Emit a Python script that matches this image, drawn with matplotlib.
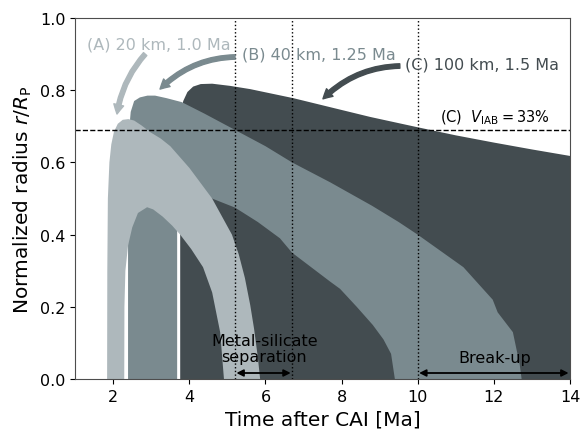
import matplotlib
matplotlib.use("Agg")
import matplotlib.pyplot as plt

# colours of the three bodies
col_a = "#aeb8bc"
col_b = "#7a8a8f"
col_c = "#434c50"

# (A) 20 km, 1.0 Ma -- outer and inner boundary of molten shell
a_out_t = [1.84, 1.845, 1.86, 1.90, 1.95, 2.02, 2.12, 2.25, 2.40, 2.55, 2.75, 2.97, 3.25, 3.50,
           4.00, 4.60, 5.12, 5.30, 5.46, 5.60, 5.70, 5.80, 5.86]
a_out_r = [0.0, 0.30, 0.50, 0.60, 0.65, 0.685, 0.707, 0.718, 0.72, 0.716, 0.702, 0.684, 0.666, 0.645,
           0.585, 0.50, 0.40, 0.345, 0.28, 0.205, 0.14, 0.06, 0.0]
a_in_t = [2.29, 2.295, 2.32, 2.39, 2.50, 2.65, 2.89, 3.05, 3.30, 3.55, 3.76, 4.05, 4.36, 4.60, 4.81, 4.91]
a_in_r = [0.0, 0.20, 0.30, 0.37, 0.42, 0.46, 0.476, 0.47, 0.45, 0.425, 0.40, 0.36, 0.31, 0.24, 0.13, 0.0]

# (B) 40 km, 1.25 Ma
b_out_t = [2.39, 2.39, 2.41, 2.46, 2.55, 2.70, 2.90, 3.10, 3.40, 3.80, 4.40, 5.20, 6.00, 6.70, 7.70,
           8.80, 9.50, 10.0, 10.6, 11.2, 11.97, 12.10, 12.50, 12.68, 12.73]
b_out_r = [0.0, 0.55, 0.68, 0.74, 0.77, 0.78, 0.785, 0.785, 0.778, 0.767, 0.735, 0.69, 0.645, 0.60, 0.545,
           0.48, 0.435, 0.40, 0.355, 0.31, 0.22, 0.185, 0.13, 0.04, 0.0]
b_in_t = [3.68, 3.68, 3.72, 3.85, 4.10, 4.60, 5.20, 5.80, 6.38, 6.70, 7.20, 7.70, 7.96, 8.40, 8.82,
          9.10, 9.30, 9.40]
b_in_r = [0.0, 0.42, 0.48, 0.515, 0.53, 0.50, 0.475, 0.435, 0.39, 0.35, 0.31, 0.27, 0.25, 0.20, 0.15,
          0.11, 0.07, 0.0]

# (C) 100 km, 1.5 Ma
c_out_t = [3.76, 3.76, 3.78, 3.84, 3.95, 4.10, 4.30, 4.60, 5.07, 5.60, 6.73, 7.70, 8.75, 9.97,
           11.0, 12.0, 13.0, 14.0, 14.5]
c_out_r = [0.0, 0.68, 0.74, 0.77, 0.795, 0.81, 0.817, 0.818, 0.812, 0.803, 0.778, 0.753, 0.726, 0.698,
           0.675, 0.655, 0.636, 0.618, 0.61]

v_iab = 0.69
t_events = [5.2, 6.7, 10.0]
t_max = 14.0


def horseshoe(ax, t_out, r_out, t_in, r_in, color):
    xs = list(t_out) + list(t_in)[::-1]
    ys = list(r_out) + list(r_in)[::-1]
    ax.fill(xs, ys, color=color, lw=0, zorder=1)


fig = plt.figure(figsize=(5.87, 4.31), dpi=100)
ax = fig.add_axes([0.128, 0.118, 0.843, 0.838])

ax.fill(c_out_t + [c_out_t[-1]], c_out_r + [0.0], color=col_c, lw=0, zorder=1)
horseshoe(ax, b_out_t, b_out_r, b_in_t, b_in_r, col_b)
horseshoe(ax, a_out_t, a_out_r, a_in_t, a_in_r, col_a)

ax.axhline(v_iab, color="k", ls="--", lw=1.0, zorder=3)
for t in t_events:
    ax.axvline(t, color="k", ls=":", lw=1.0, zorder=3)

# labels for the bodies
ax.text(1.32, 0.928, "(A) 20 km, 1.0 Ma", color=col_a, fontsize=11.5, va="center")
ax.text(5.38, 0.90, "(B) 40 km, 1.25 Ma", color=col_b, fontsize=11.5, va="center")
ax.text(9.66, 0.873, "(C) 100 km, 1.5 Ma", color=col_c, fontsize=11.5, va="center")

arrow_kw = dict(arrowstyle="simple,head_length=0.42,head_width=0.45,tail_width=0.2",
                mutation_scale=16, shrinkA=0, shrinkB=0)
ax.annotate("", xy=(2.1, 0.734), xytext=(2.84, 0.90),
            arrowprops=dict(color=col_a, connectionstyle="arc3,rad=0.15", **arrow_kw))
ax.annotate("", xy=(3.23, 0.803), xytext=(5.2, 0.892),
            arrowprops=dict(color=col_b, connectionstyle="arc3,rad=0.2", **arrow_kw))
ax.annotate("", xy=(7.51, 0.776), xytext=(9.53, 0.867),
            arrowprops=dict(color=col_c, connectionstyle="arc3,rad=0.2", **arrow_kw))

ax.text(10.58, 0.725, r"(C)  $V_\mathrm{IAB}=33\%$", fontsize=10.5, va="center")

# time windows
dbl = dict(arrowstyle="<|-|>", color="k", lw=1.3, mutation_scale=10, shrinkA=1, shrinkB=1)
ax.annotate("", xy=(t_events[0], 0.017), xytext=(t_events[1], 0.017), arrowprops=dbl)
ax.annotate("", xy=(t_events[2], 0.017), xytext=(t_max, 0.017), arrowprops=dbl)
ax.text(5.97, 0.085, "Metal-silicate\nseparation", ha="center", va="center", fontsize=11.5,
        linespacing=1.1)
ax.text(12.03, 0.061, "Break-up", ha="center", va="center", fontsize=11.5)

ax.set_xlim(1, 14)
ax.set_ylim(0, 1)
ax.set_xticks([2, 4, 6, 8, 10, 12, 14])
ax.set_yticks([0.0, 0.2, 0.4, 0.6, 0.8, 1.0])
ax.tick_params(labelsize=11.5)
ax.set_xlabel("Time after CAI [Ma]", fontsize=14.5)
ax.set_ylabel(r"Normalized radius $r/R_\mathrm{P}$", fontsize=14.5)
for s in ax.spines.values():
    s.set_color("0.3")
    s.set_zorder(5)

fig.savefig("out.png", dpi=100)
